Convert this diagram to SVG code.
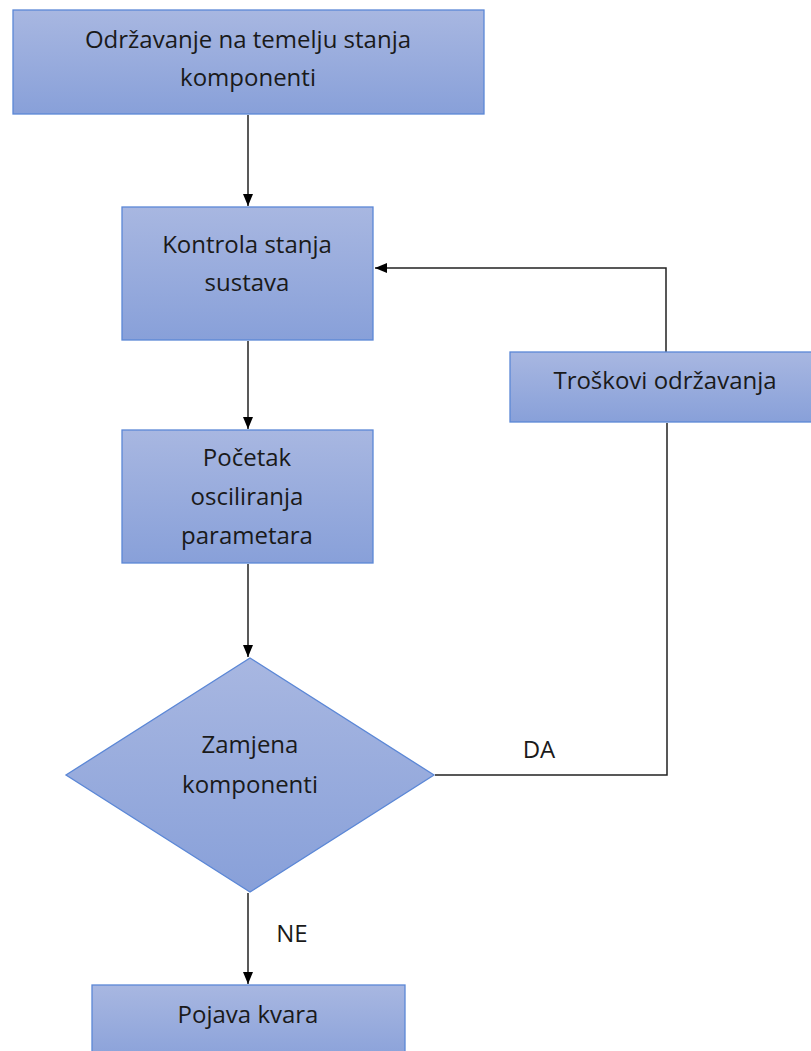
<svg xmlns="http://www.w3.org/2000/svg" width="811" height="1051" viewBox="0 0 811 1051">
<defs>
<linearGradient id="g" x1="0" y1="0" x2="0" y2="1">
<stop offset="0" stop-color="#a8b7e1"/>
<stop offset="1" stop-color="#88a0d9"/>
</linearGradient>
<marker id="ah" markerWidth="12" markerHeight="10" refX="12" refY="5" orient="auto" markerUnits="userSpaceOnUse">
<path d="M0,0 L12,5 L0,10 Z" fill="#000"/>
</marker>
<style>
.n{fill:url(#g);stroke:#5b87d6;stroke-width:1.3}
.t{font-family:"Open Sans","Liberation Sans",sans-serif;font-size:24px;fill:#1a1a1a;text-anchor:middle}
.c{fill:none;stroke:#222;stroke-width:1.5}
</style>
</defs>
<g id="connectors">
<line class="c" x1="248" y1="115" x2="248" y2="206" marker-end="url(#ah)"/>
<line class="c" x1="248" y1="341" x2="248" y2="429" marker-end="url(#ah)"/>
<line class="c" x1="248" y1="564" x2="248" y2="657" marker-end="url(#ah)"/>
<line class="c" x1="248" y1="893" x2="248" y2="984" marker-end="url(#ah)"/>
<polyline class="c" points="666,352 666,268 375,268" marker-end="url(#ah)"/>
<polyline class="c" points="667,423 667,775 435,775"/>
<text class="t" x="539" y="758">DA</text>
<text class="t" x="292" y="942">NE</text>
</g>
<g id="n1"><rect class="n" x="13" y="10" width="471" height="104"/>
<text class="t" x="248" y="48">Održavanje na temelju stanja</text>
<text class="t" x="248" y="86">komponenti</text></g>
<g id="n2"><rect class="n" x="122" y="207" width="251" height="133"/>
<text class="t" x="247" y="253">Kontrola stanja</text>
<text class="t" x="247" y="291">sustava</text></g>
<g id="n3"><rect class="n" x="122" y="430" width="251" height="133"/>
<text class="t" x="247" y="466">Početak</text>
<text class="t" x="247" y="505">osciliranja</text>
<text class="t" x="247" y="544">parametara</text></g>
<g id="n4"><polygon class="n" points="250,658 434,775 250,892 66,775"/>
<text class="t" x="250" y="753">Zamjena</text>
<text class="t" x="250" y="793">komponenti</text></g>
<g id="n5"><rect class="n" x="510" y="352" width="310" height="70"/>
<text class="t" x="665" y="389">Troškovi održavanja</text></g>
<g id="n6"><rect class="n" x="92" y="985" width="313" height="80"/>
<text class="t" x="248" y="1023">Pojava kvara</text></g>
</svg>
